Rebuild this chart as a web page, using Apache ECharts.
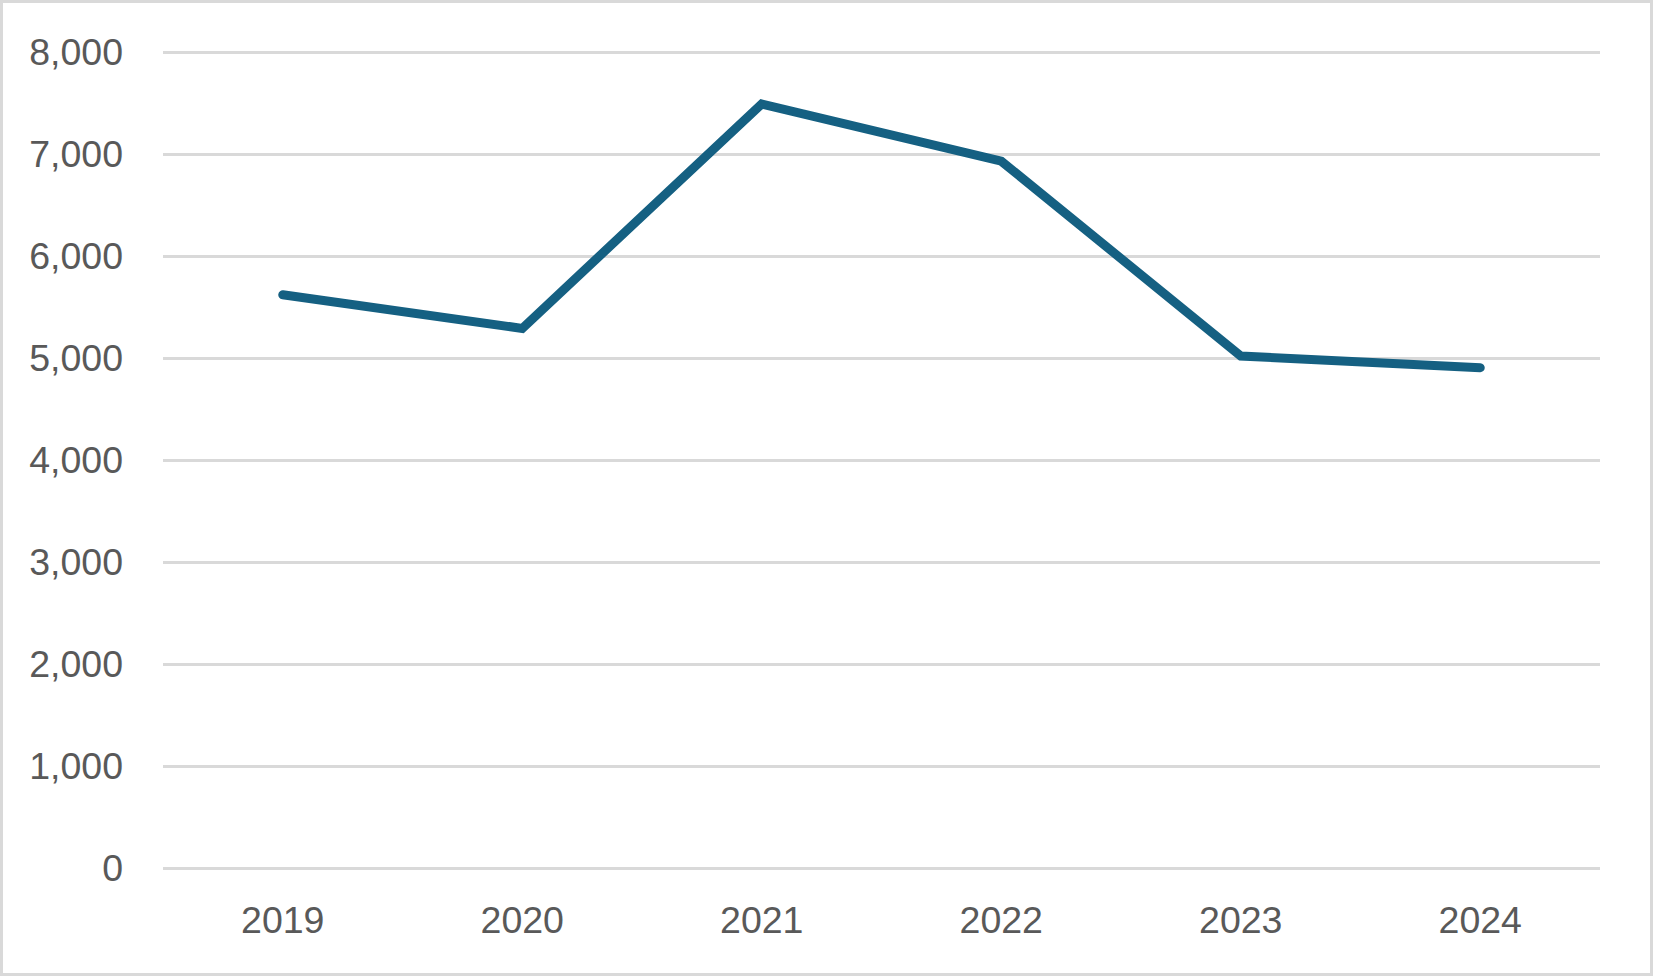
<!DOCTYPE html>
<html>
<head>
<meta charset="utf-8">
<script src="https://cdn.jsdelivr.net/npm/echarts@6/dist/echarts.min.js"></script>
<style>
  html, body { margin: 0; padding: 0; background: #fff; }
  #chart { width: 1653px; height: 976px; }
</style>
</head>
<body>
<div id="chart"></div>
<script>
var years = ['2019', '2020', '2021', '2022', '2023', '2024'];
var values = [5620, 5290, 7490, 6930, 5020, 4905];
var yTicks = [0, 1000, 2000, 3000, 4000, 5000, 6000, 7000, 8000];

(function() {
  var ink = '#595959';
  var rule = '#d9d9d9';
  var accent = '#156082';

  var chart = echarts.init(document.getElementById('chart'), null, { renderer: 'svg' });
  chart.setOption({
    animation: false,
    grid: { left: 163, right: 53, top: 52, bottom: 108 },
    graphic: [{
      type: 'rect',
      shape: { x: 1.5, y: 1.5, width: 1650, height: 973 },
      style: { fill: 'none', stroke: rule, lineWidth: 3 },
      silent: true
    }],
    xAxis: {
      type: 'category',
      data: years,
      boundaryGap: true,
      axisLine: { show: false },
      axisTick: { show: false },
      axisLabel: {
        color: ink,
        fontSize: 37.5,
        fontFamily: 'Liberation Sans, Arial, sans-serif',
        margin: 33
      }
    },
    yAxis: {
      type: 'value',
      min: yTicks[0],
      max: yTicks[yTicks.length - 1],
      interval: 1000,
      axisLine: { show: false },
      axisTick: { show: false },
      axisLabel: {
        color: ink,
        fontSize: 37.5,
        fontFamily: 'Liberation Sans, Arial, sans-serif',
        margin: 40,
        formatter: function(v) { return v.toLocaleString('en-US'); }
      },
      splitLine: { lineStyle: { color: rule, width: 3 } }
    },
    series: [{
      type: 'line',
      data: values,
      symbol: 'none',
      lineStyle: { color: accent, width: 9, cap: 'round', join: 'miter' }
    }]
  });
})();
</script>
</body>
</html>
